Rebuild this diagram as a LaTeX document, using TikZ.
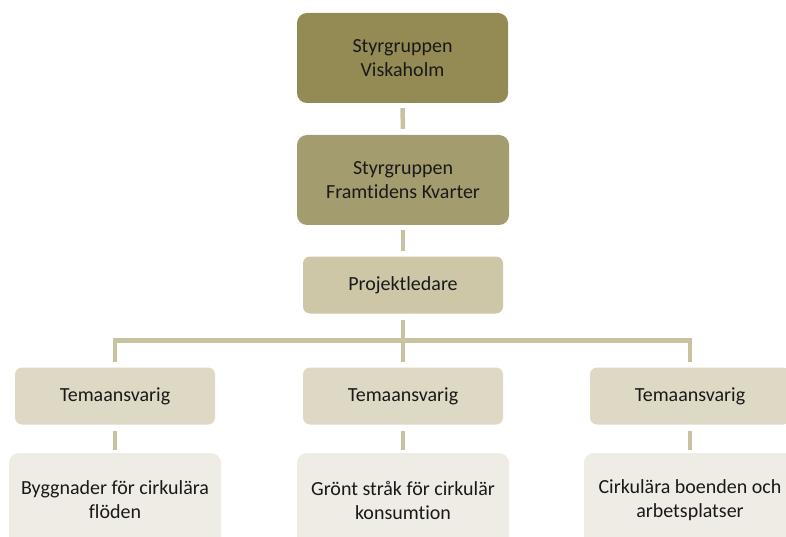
\documentclass[tikz,border=0pt]{standalone}
\usepackage{fontspec}
\setmainfont[Ligatures=NoCommon]{Carlito}
\definecolor{boardA}{HTML}{948A54}
\definecolor{boardB}{HTML}{A39C6F}
\definecolor{leadC}{HTML}{CDC7A7}
\definecolor{themeD}{HTML}{DDD9C4}
\definecolor{areaE}{HTML}{EEECE4}
\definecolor{linkC}{HTML}{C9C2A0}
\tikzset{
  orgbox/.style={rectangle, rounded corners=10pt, draw=none, align=center,
    font=\fontsize{20}{24}\selectfont, text=black!90, inner sep=0pt},
  conn/.style={draw=linkC, line width=4.5pt, line join=miter},
}
\begin{document}
\begin{tikzpicture}[x=1pt, y=-1pt]
  \path[use as bounding box, clip] (0,0) rectangle (786,537);
  \fill[white] (0,0) rectangle (786,537);

  % steering groups and project lead
  \node[orgbox, fill=boardA, minimum width=211pt, minimum height=90pt] (top) at (402.5,58) {Styrgruppen\\Viskaholm};
  \node[orgbox, fill=boardB, minimum width=212pt, minimum height=90pt] (fk) at (403,180) {Styrgruppen\\Framtidens Kvarter};
  \node[orgbox, fill=leadC, rounded corners=7pt, minimum width=200pt, minimum height=57pt] (pl) at (403,285) {Projektledare};

  % theme leads
  \node[orgbox, fill=themeD, rounded corners=7pt, minimum width=200pt, minimum height=57pt] (t1) at (115,396) {Temaansvarig};
  \node[orgbox, fill=themeD, rounded corners=7pt, minimum width=200pt, minimum height=57pt] (t2) at (403,396) {Temaansvarig};
  \node[orgbox, fill=themeD, rounded corners=7pt, minimum width=200pt, minimum height=57pt] (t3) at (690,396) {Temaansvarig};

  % theme areas
  \node[orgbox, fill=areaE, minimum width=212pt, minimum height=94pt] (b1) at (115,500) {Byggnader för cirkulära\\flöden};
  \node[orgbox, fill=areaE, minimum width=212pt, minimum height=94pt] (b2) at (403,500) {Grönt stråk för cirkulär\\konsumtion};
  \node[orgbox, fill=areaE, minimum width=212pt, minimum height=94pt] (b3) at (690,500) {Cirkulära boenden och\\arbetsplatser};

  % connectors
  \coordinate (hub) at (403,340.5);
  \draw[conn, shorten <=5pt, shorten >=6pt] (top.south) -- (fk.north);
  \draw[conn, shorten <=5pt, shorten >=5pt] (fk.south) -- (pl.north);
  \draw[conn, shorten <=6pt] (pl.south) -- (hub);
  \draw[conn, shorten >=5pt] (hub) -| (t1.north);
  \draw[conn, shorten >=5pt] (hub) -| (t3.north);
  \draw[conn, shorten >=5pt] (hub) -- (t2.north);
  \draw[conn, shorten <=6pt, shorten >=3pt] (t1.south) -- (b1.north);
  \draw[conn, shorten <=6pt, shorten >=3pt] (t2.south) -- (b2.north);
  \draw[conn, shorten <=6pt, shorten >=3pt] (t3.south) -- (b3.north);
\end{tikzpicture}
\end{document}
